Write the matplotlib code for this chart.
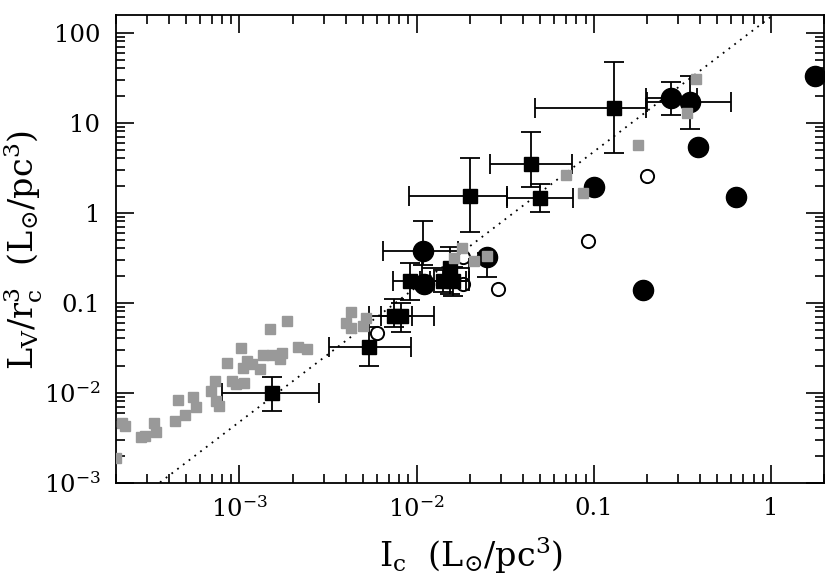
import matplotlib
matplotlib.use("Agg")
import matplotlib.pyplot as plt
import numpy as np

plt.rcParams['font.family'] = ['DejaVu Serif']
plt.rcParams['mathtext.fontset'] = 'dejavuserif'

# ---- data ----
gray_x = [2.01e-4, 2.18e-4, 2.27e-4, 2.77e-4, 2.94e-4, 3.30e-4, 3.39e-4, 4.32e-4, 4.51e-4, 4.95e-4,
          5.50e-4, 5.65e-4, 6.95e-4, 7.26e-4, 7.39e-4, 7.65e-4, 8.52e-4, 9.10e-4, 9.55e-4, 1.02e-3,
          1.05e-3, 1.06e-3, 1.10e-3, 1.17e-3, 1.30e-3, 1.35e-3, 1.49e-3, 1.52e-3, 1.70e-3, 1.74e-3,
          1.85e-3, 2.14e-3, 2.42e-3, 4.26e-3, 4.02e-3, 4.26e-3, 5.19e-3, 4.97e-3, 0.0180, 0.01626,
          0.0212, 0.0249, 0.0694, 0.0875, 0.178, 0.379, 0.336]
gray_y = [1.90e-3, 4.64e-3, 4.30e-3, 3.24e-3, 3.30e-3, 4.64e-3, 3.63e-3, 4.85e-3, 8.30e-3, 5.65e-3,
          8.89e-3, 6.99e-3, 0.01045, 0.01360, 8.15e-3, 7.12e-3, 0.0214, 0.01339, 0.0125, 0.0316,
          0.0188, 0.0128, 0.0223, 0.0207, 0.0182, 0.0261, 0.0506, 0.0262, 0.0235, 0.0274,
          0.0626, 0.0322, 0.0303, 0.0794, 0.0595, 0.0526, 0.0679, 0.0547, 0.410, 0.315,
          0.292, 0.330, 2.62, 1.67, 5.65, 30.4, 12.9]

open_x = [0.201, 0.0925, 0.0290, 0.0182, 0.0182, 0.00601]
open_y = [2.56, 0.481, 0.141, 0.319, 0.162, 0.0461]

circ_x = [1.77, 0.391, 0.633, 0.191, 0.100, 0.01104]
circ_y = [33.3, 5.33, 1.49, 0.139, 1.92, 0.161]

circe_x = [0.273, 0.348, 0.01086, 0.0250]
circe_y = [18.7, 16.9, 0.378, 0.318]
circe_xlo = [0.198, 0.199, 0.00646, 0.0250]
circe_xhi = [0.383, 0.595, 0.0172, 0.0250]
circe_ylo = [12.1, 8.45, 0.26, 0.193]
circe_yhi = [28.6, 33.0, 0.815, 0.36]

sq_x = [0.131, 0.0443, 0.0499, 0.0201, 0.00914, 0.01413, 0.01614, 0.01535, 0.00741, 0.00815, 0.00542, 0.00153]
sq_y = [14.7, 3.47, 1.45, 1.53, 0.173, 0.173, 0.173, 0.241, 0.0711, 0.0711, 0.0325, 0.00985]
sq_xlo = [0.0464, 0.0261, 0.0324, 0.00908, 0.00735, 0.0105, 0.0125, 0.0107, 0.0054, 0.0063, 0.00321, 0.000799]
sq_xhi = [0.198, 0.0753, 0.0769, 0.0325, 0.0119, 0.0190, 0.0199, 0.0199, 0.0094, 0.01257, 0.00929, 0.00283]
sq_ylo = [4.63, 1.95, 1.03, 0.605, 0.107, 0.13, 0.12, 0.125, 0.054, 0.0476, 0.0198, 0.00631]
sq_yhi = [47.0, 7.98, 2.07, 4.02, 0.278, 0.23, 0.25, 0.419, 0.109, 0.100, 0.053, 0.0151]

line_x = [1e-4, 3.0]
line_coef = 150.0
line_slope = 1.5

xtick_vals = [1e-3, 1e-2, 0.1, 1]
xtick_labels = [r'$10^{-3}$', r'$10^{-2}$', '0.1', '1']
ytick_vals = [1e-3, 1e-2, 0.1, 1, 10, 100]
ytick_labels = [r'$10^{-3}$', r'$10^{-2}$', '0.1', '1', '10', '100']

# ---- figure ----
fig = plt.figure(figsize=(8.3, 5.85), dpi=100)
ax = fig.add_axes([0.1394, 0.1749, 0.8534, 0.80])
ax.set_xscale('log')
ax.set_yscale('log')
ax.set_xlim(2e-4, 2.0)
ax.set_ylim(1e-3, 10**2.2)

lx = np.array(line_x)
ax.plot(lx, line_coef * lx**line_slope, color='black', lw=1.3, ls=(0, (1, 3)), zorder=1)

sx = np.array(sq_x); sy = np.array(sq_y)
ax.errorbar(sx, sy,
            xerr=[sx - np.array(sq_xlo), np.array(sq_xhi) - sx],
            yerr=[sy - np.array(sq_ylo), np.array(sq_yhi) - sy],
            fmt='s', color='black', ms=9.5, elinewidth=1.3, capsize=7, capthick=1.3, zorder=3)

cx = np.array(circe_x); cy = np.array(circe_y)
ax.errorbar(cx, cy,
            xerr=[cx - np.array(circe_xlo), np.array(circe_xhi) - cx],
            yerr=[cy - np.array(circe_ylo), np.array(circe_yhi) - cy],
            fmt='o', color='black', ms=14.5, elinewidth=1.3, capsize=7, capthick=1.3, zorder=3)

ax.plot(circ_x, circ_y, 'o', color='black', ms=14.5, ls='none', zorder=3)
ax.plot(open_x, open_y, 'o', mfc='none', mec='black', mew=1.4, ms=9.5, ls='none', zorder=4)
ax.plot(gray_x, gray_y, 's', color='#999999', ms=6.5, ls='none', zorder=5)

ax.set_xticks(xtick_vals)
ax.set_xticklabels(xtick_labels)
ax.set_yticks(ytick_vals)
ax.set_yticklabels(ytick_labels)

ax.tick_params(which='both', direction='in', top=True, right=True, width=1.2)
ax.tick_params(which='major', length=13, labelsize=17.5, pad=10)
ax.tick_params(which='minor', length=6.5)
ax.tick_params(axis='y', which='major', pad=11)
for s in ax.spines.values():
    s.set_linewidth(1.3)

ax.set_xlabel(r'$\mathrm{I_c}\ \ \mathrm{(L_{{\odot}}/pc^3)}$', fontsize=24)
ax.set_ylabel(r'$\mathrm{L_V/r_c^3}\ \ \mathrm{(L_{{\odot}}/pc^3)}$', fontsize=24)
ax.xaxis.set_label_coords(0.502, -0.112)
ax.yaxis.set_label_coords(-0.100, 0.497)

fig.savefig('out.png', dpi=100)
